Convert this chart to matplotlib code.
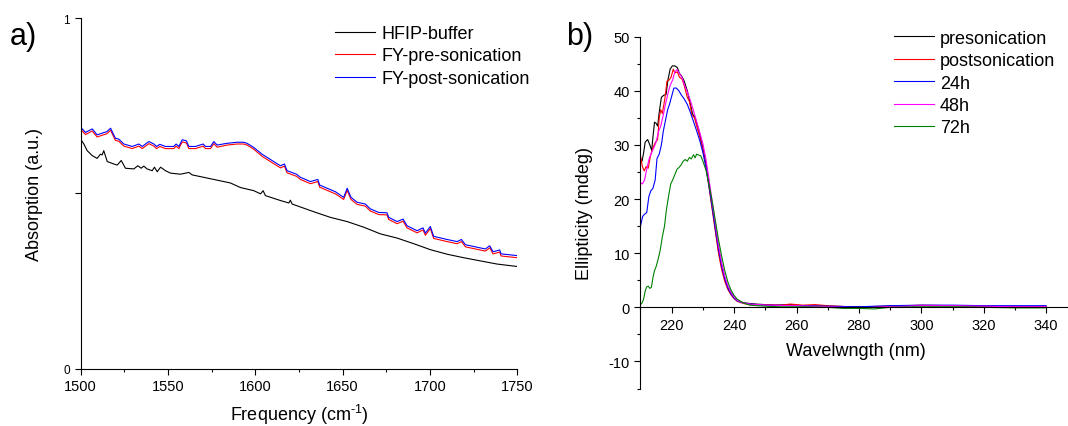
import matplotlib
matplotlib.use('Agg')
import matplotlib.pyplot as plt
from matplotlib.ticker import MultipleLocator

plt.rcParams['font.family'] = ['Liberation Sans', 'DejaVu Sans']
plt.rcParams['mathtext.default'] = 'regular'
plt.rcParams['mathtext.fontset'] = 'custom'
plt.rcParams['mathtext.rm'] = 'Liberation Sans'
plt.rcParams['axes.unicode_minus'] = False

# ---- panel a: absorption spectra ----
freq_buffer = [1500, 1501.9, 1503.8, 1506.7, 1509.5, 1511.4, 1512.4, 1513.3, 1515.3, 1519.1,
               1521, 1523.3, 1525.7, 1530.5, 1532.8, 1534.7, 1536.2, 1538.1, 1541, 1542.3,
               1543.9, 1545.8, 1548.6, 1551.5, 1557.2, 1562, 1563.9, 1570.6, 1576.3, 1585.8,
               1591.5, 1599.2, 1603, 1604.5, 1605.8, 1614.4, 1619.2, 1620.1, 1621.1, 1633.5,
               1643, 1652.6, 1662.1, 1671.6, 1681.2, 1690.7, 1700.2, 1709.8, 1719.3, 1728.8,
               1738.4, 1750]
abs_buffer = [0.655, 0.641, 0.622, 0.608, 0.600, 0.612, 0.610, 0.622, 0.591, 0.584,
              0.581, 0.594, 0.572, 0.570, 0.579, 0.572, 0.578, 0.570, 0.565, 0.575,
              0.562, 0.575, 0.565, 0.558, 0.555, 0.560, 0.553, 0.546, 0.540, 0.530,
              0.517, 0.508, 0.499, 0.508, 0.494, 0.480, 0.473, 0.481, 0.470, 0.448,
              0.432, 0.420, 0.404, 0.385, 0.373, 0.357, 0.340, 0.327, 0.317, 0.308,
              0.299, 0.292]

freq_fy = [1500, 1502.9, 1506.7, 1509.5, 1512.4, 1515, 1517.2, 1520, 1521.9, 1524.8,
           1529.6, 1533.4, 1535.3, 1539.1, 1542, 1543.5, 1545.4, 1548.6, 1553.4, 1554.7,
           1556.3, 1558.2, 1560.6, 1562, 1565.8, 1570.2, 1571.5, 1574.4, 1576.3, 1578.2,
           1583.9, 1589.6, 1593.4, 1595.3, 1599.2, 1603.9, 1609.6, 1614.4, 1616.7, 1618.2,
           1623.6, 1625.9, 1631.6, 1635.8, 1636.9, 1643, 1645.9, 1650.6, 1652.6, 1654.8,
           1658.3, 1663, 1665.9, 1670.7, 1675.4, 1676.4, 1681.2, 1684.6, 1686.9, 1692.6,
           1696, 1697.4, 1700.2, 1702.1, 1709.8, 1715.5, 1718, 1720.3, 1726.9, 1731.7,
           1734.2, 1736.1, 1739.9, 1740.7, 1750]
abs_post = [0.689, 0.674, 0.684, 0.667, 0.672, 0.676, 0.686, 0.657, 0.655, 0.641,
            0.634, 0.641, 0.634, 0.648, 0.641, 0.634, 0.640, 0.634, 0.634, 0.641,
            0.634, 0.653, 0.650, 0.634, 0.634, 0.641, 0.634, 0.634, 0.648, 0.638,
            0.643, 0.646, 0.646, 0.643, 0.631, 0.612, 0.594, 0.579, 0.584, 0.565,
            0.555, 0.546, 0.534, 0.540, 0.524, 0.511, 0.505, 0.489, 0.515, 0.489,
            0.475, 0.470, 0.456, 0.446, 0.445, 0.432, 0.420, 0.427, 0.408, 0.394,
            0.402, 0.387, 0.406, 0.378, 0.369, 0.363, 0.369, 0.354, 0.347, 0.342,
            0.351, 0.334, 0.339, 0.328, 0.323]
abs_pre = [0.683, 0.668, 0.678, 0.661, 0.666, 0.670, 0.680, 0.651, 0.649, 0.635,
           0.628, 0.635, 0.628, 0.642, 0.635, 0.628, 0.634, 0.628, 0.628, 0.635,
           0.628, 0.647, 0.644, 0.628, 0.628, 0.635, 0.628, 0.628, 0.642, 0.632,
           0.638, 0.641, 0.641, 0.638, 0.626, 0.606, 0.588, 0.573, 0.578, 0.559,
           0.549, 0.540, 0.528, 0.534, 0.518, 0.505, 0.499, 0.483, 0.509, 0.483,
           0.469, 0.464, 0.450, 0.440, 0.439, 0.426, 0.414, 0.421, 0.402, 0.388,
           0.396, 0.381, 0.400, 0.372, 0.363, 0.357, 0.363, 0.348, 0.341, 0.336,
           0.345, 0.328, 0.333, 0.322, 0.317]

# ---- panel b: CD spectra ----
wl_pre = [210, 210.5, 211, 211.5, 212.3, 213, 213.6, 214, 214.5, 215, 215.5, 216, 216.7,
          217.5, 218.2, 218.8, 219.5, 220.2, 221, 221.8, 222.5, 223.2, 224, 225, 226,
          226.7, 227.5, 228.3, 229, 230, 231, 232, 233, 234, 235, 236, 237, 238, 239,
          240, 241, 242.5, 245, 247, 250, 253, 258, 262, 270, 280, 290, 300, 310, 320,
          330, 340]
cd_pre = [27.5, 27, 28.5, 30.5, 31, 30, 29, 31.5, 34.2, 34, 33.5, 36, 38.8,
          39.2, 39.3, 42, 44, 44.6, 44.6, 44.3, 43.2, 42.7, 41.8, 40, 37.5,
          35.7, 35, 33.5, 32, 29.5, 26.5, 22.5, 18.5, 14.5, 10.5, 7.5, 5.3, 3.7, 2.6,
          1.8, 1.3, 0.9, 0.7, 0.6, 0.5, 0.4, 0.5, 0.3, 0.2, 0.1, 0.2, 0.3, 0.3, 0.2,
          0.1, 0.1]

wl_post = [210, 210.6, 211.2, 211.8, 212.5, 213.2, 214, 214.8, 215.5, 216, 216.5, 217,
           217.8, 218.5, 219.2, 219.8, 220.5, 221, 221.8, 222.5, 223.3, 224, 225, 225.7,
           226.5, 227.3, 228, 229, 230, 231, 232, 233, 234, 235, 236, 237, 238, 239, 240,
           241, 243, 245, 250, 255, 258, 262, 266, 270, 280, 290, 300, 310, 320, 330, 340]
cd_post = [28, 26, 25.2, 26, 25.7, 28, 29.5, 30.5, 31, 35, 36.5, 35.8,
           38.5, 41.8, 42, 42.5, 44, 43.3, 43.5, 42.5, 42.2, 41, 38.8, 38,
           35.5, 35, 33.5, 31.5, 29, 25.8, 22, 18, 14, 10, 7, 4.8, 3.3, 2.3, 1.6,
           1.1, 0.7, 0.5, 0.5, 0.4, 0.6, 0.4, 0.5, 0.3, 0.0, 0.2, 0.4, 0.3, 0.2, 0.1, 0.1]

wl_24h = [210, 210.7, 211.3, 212, 212.7, 213.3, 214, 214.7, 215.3, 216, 216.7, 217.3,
          218, 218.7, 219.3, 220, 220.7, 221.5, 222.3, 223, 224, 225, 226, 227, 228,
          229, 230, 231, 232, 233, 234, 235, 236, 237, 238, 239, 240, 241, 243, 245,
          250, 260, 270, 280, 290, 300, 310, 320, 330, 340]
cd_24h = [15, 16.8, 17.2, 17.5, 20.5, 21.5, 22, 23.5, 27.5, 28.3, 30, 32.5,
          34.5, 36.5, 37.5, 39, 40.5, 40.5, 40, 39.3, 38.5, 37.5, 36, 34.3, 32.6,
          30.8, 28.6, 25.8, 22.3, 18.5, 14.5, 10.8, 7.7, 5.3, 3.6, 2.5, 1.7, 1.2, 0.8, 0.6,
          0.4, 0.3, 0.2, 0.1, 0.3, 0.4, 0.4, 0.3, 0.3, 0.3]

wl_48h = [210, 210.6, 211.3, 212, 212.8, 213.5, 214.3, 215, 215.8, 216.5, 217.3, 218,
          218.8, 219.5, 220.3, 221, 221.7, 222.5, 223.3, 224, 225, 226, 227, 228, 229,
          230, 231, 232, 233, 234, 235, 236, 237, 238, 239, 240, 241, 243, 245, 250,
          260, 270, 280, 290, 300, 310, 320, 330, 340]
cd_48h = [23, 22.8, 23.5, 25.5, 27.5, 28.5, 29.5, 30.5, 32.5, 33.5, 35.5, 37.5,
          39.5, 41, 42, 43.5, 43.9, 43.2, 42.5, 41.2, 39.8, 38.2, 36.3, 34.3, 32.3,
          30.2, 27.3, 23.5, 19.5, 15.5, 11.5, 8.3, 5.8, 4, 2.8, 1.9, 1.3, 0.8, 0.6, 0.4,
          0.3, 0.1, -0.1, 0.1, 0.3, 0.3, 0.2, 0.1, 0.1]

wl_72h = [210, 210.5, 211, 211.5, 212, 212.5, 213, 213.5, 214, 214.5, 215, 215.7, 216.3,
          217, 217.7, 218.3, 219, 219.7, 220.3, 221, 221.7, 222.3, 223, 223.7, 224.3,
          225, 225.7, 226.3, 227, 227.5, 228, 228.7, 229.3, 230, 231, 232, 233, 234,
          235, 236, 237, 238, 239, 240, 241, 243, 245, 250, 255, 260, 270, 275, 280,
          285, 290, 300, 310, 320, 330, 340]
cd_72h = [0.5, 0.8, 1.5, 3, 3.8, 3.9, 3.5, 3.7, 5.5, 6.8, 7.5, 9, 10.5,
          13, 15, 18, 20.5, 22.8, 23.5, 24.5, 25.5, 25.8, 26.3, 27, 27.3,
          27, 27.7, 27.4, 28.2, 27.6, 28.3, 28.1, 28, 27, 25.3, 22.6, 19.5, 16,
          12.5, 9.5, 6.8, 4.7, 3.2, 2.2, 1.5, 0.8, 0.4, 0.2, 0.1, 0.1, 0.0, -0.2, -0.2,
          -0.3, 0.0, 0.1, 0.1, 0.0, -0.1, -0.1]

fig = plt.figure(figsize=(10.68, 4.27), dpi=100)
ax1 = fig.add_axes([0.0754, 0.1335, 0.409, 0.822])
ax2 = fig.add_axes([0.5997, 0.0878, 0.4003, 0.824])

lw = 0.8

# panel a
ax1.plot(freq_buffer, abs_buffer, color='black', lw=lw, label='HFIP-buffer')
ax1.plot(freq_fy, abs_pre, color='red', lw=lw, label='FY-pre-sonication')
ax1.plot(freq_fy, abs_post, color='blue', lw=lw, label='FY-post-sonication')
ax1.set_xlim(1500, 1750)
ax1.set_ylim(0, 1)
ax1.spines['top'].set_visible(False)
ax1.spines['right'].set_visible(False)
ax1.set_xticks([1500, 1550, 1600, 1650, 1700, 1750])
ax1.xaxis.set_minor_locator(MultipleLocator(25))
ax1.set_yticks([0, 0.5, 1])
ax1.set_yticklabels(['0', '', '1'])
ax1.tick_params(axis='x', labelsize=10.5)
ax1.tick_params(axis='y', labelsize=8.5)
ax1.set_xlabel('Frequency (cm$^{\\text{-1}}$)', fontsize=13)
ax1.set_ylabel('Absorption (a.u.)', fontsize=13)
ax1.xaxis.set_label_coords(0.5, -0.095)
ax1.yaxis.set_label_coords(-0.086, 0.5)
ax1.legend(loc='upper left', bbox_to_anchor=(0.3137, 0.939), bbox_transform=fig.transFigure,
           frameon=False, fontsize=13, borderpad=0, borderaxespad=0,
           handlelength=2.2, handletextpad=0.35, labelspacing=0.3)

# panel b
ax2.plot(wl_pre, cd_pre, color='black', lw=lw, label='presonication')
ax2.plot(wl_post, cd_post, color='red', lw=lw, label='postsonication')
ax2.plot(wl_24h, cd_24h, color='blue', lw=lw, label='24h')
ax2.plot(wl_48h, cd_48h, color='magenta', lw=lw, label='48h')
ax2.plot(wl_72h, cd_72h, color='green', lw=lw, label='72h')
ax2.set_xlim(210, 347)
ax2.set_ylim(-15, 50)
ax2.spines['top'].set_visible(False)
ax2.spines['right'].set_visible(False)
ax2.spines['bottom'].set_position(('data', 0))
ax2.set_xticks(range(220, 341, 20))
ax2.xaxis.set_minor_locator(MultipleLocator(10))
ax2.set_yticks(range(-10, 51, 10))
ax2.yaxis.set_minor_locator(MultipleLocator(5))
ax2.tick_params(labelsize=10.5)
ax2.set_xlabel('Wavelwngth (nm)', fontsize=13)
ax2.set_ylabel('Ellipticity (mdeg)', fontsize=13)
ax2.xaxis.set_label_coords(0.504, 0.132)
ax2.yaxis.set_label_coords(-0.111, 0.5)
ax2.legend(loc='upper left', bbox_to_anchor=(0.837, 0.928), bbox_transform=fig.transFigure,
           frameon=False, fontsize=13, borderpad=0, borderaxespad=0,
           handlelength=2.2, handletextpad=0.35, labelspacing=0.3)

for ax in (ax1, ax2):
    for sp in ax.spines.values():
        sp.set_linewidth(0.8)
    ax.tick_params(which='major', direction='out', length=4.5, width=0.8, pad=3)
    ax.tick_params(which='minor', direction='out', length=2.5, width=0.8)

fig.text(10 / 1068, 1 - 45 / 427, 'a)', fontsize=22, va='baseline')
fig.text(566 / 1068, 1 - 45 / 427, 'b)', fontsize=22, va='baseline')

fig.savefig('out.png', dpi=100)
